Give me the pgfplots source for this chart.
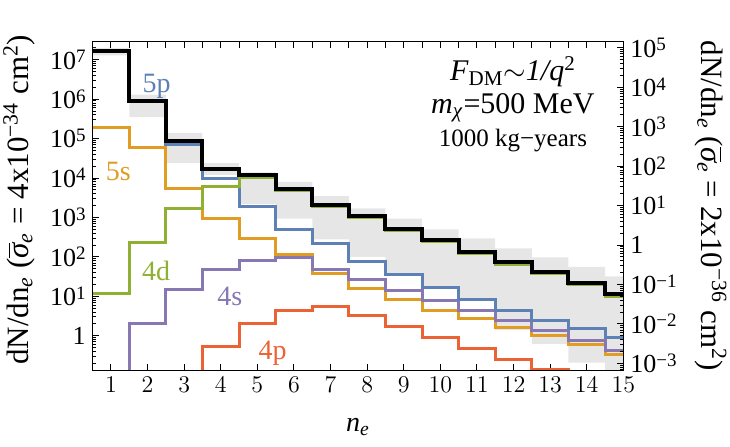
\documentclass[border=0pt]{standalone}
\usepackage{fontspec}
\setmainfont{Liberation Serif}
\usepackage{pgfplots}
\pgfplotsset{compat=1.18}
\definecolor{c5p}{HTML}{5E81B5}
\definecolor{c5s}{HTML}{E19C24}
\definecolor{c4d}{HTML}{8FB032}
\definecolor{c4p}{HTML}{EB6235}
\definecolor{c4s}{HTML}{8778B3}
\definecolor{band}{HTML}{E6E6E6}
\newcommand{\sig}{\(\overline{\hbox{\itshape σ}}\)}
\newcommand{\ex}[1]{\raisebox{3.2pt}{\fontsize{9.5}{10}\selectfont #1}}
\begin{document}
\begin{tikzpicture}
\useasboundingbox (-46.35pt,-38pt) rectangle (318.65pt,185pt);
\pgfplotsset{
  every tick label/.append style={font=\fontsize{13}{15}\selectfont},
  every axis/.append style={line width=0.5pt},
  major tick length=3pt, minor tick length=1.6pt,
  every tick/.style={black, line width=0.5pt},
}
% main axis
\begin{axis}[at={(0,0)}, anchor=south west, scale only axis,
  width=265.3pt, height=164.15pt,
  xmin=0.5, xmax=15, ymode=log, ymin=0.1355, ymax=2.87e7,
  xtick={1,2,...,15}, xtick pos=left,
  ytick pos=left,
  ytick={1,10,100,1000,1e4,1e5,1e6,1e7},
  yticklabels={1,10\ex{1},10\ex{2},10\ex{3},10\ex{4},10\ex{5},10\ex{6},10\ex{7}},
  minor ytick={2e-1,3e-1,4e-1,5e-1,6e-1,7e-1,8e-1,9e-1,2e0,3e0,4e0,5e0,6e0,7e0,8e0,9e0,2e1,3e1,4e1,5e1,6e1,7e1,8e1,9e1,2e2,3e2,4e2,5e2,6e2,7e2,8e2,9e2,2e3,3e3,4e3,5e3,6e3,7e3,8e3,9e3,2e4,3e4,4e4,5e4,6e4,7e4,8e4,9e4,2e5,3e5,4e5,5e5,6e5,7e5,8e5,9e5,2e6,3e6,4e6,5e6,6e6,7e6,8e6,9e6,2e7},
  xlabel={\textit{n}\textsubscript{\textit{e}}},
  xlabel style={font=\fontsize{14}{16}\selectfont, at={(axis description cs:0.5,-0.174)}, anchor=center},
  ylabel={dN/dn\textsubscript{\textit{e}} (\sig\textsubscript{\textit{e}} = 4x10\textsuperscript{−34} cm\textsuperscript{2})},
  ylabel style={font=\fontsize{15.5}{17}\selectfont, at={(axis description cs:-0.1389,0.519)}, anchor=center},
  clip=true,
]
% uncertainty band (upper edge forward, lower edge backward)
\addplot[fill=band, draw=none] coordinates {
(0.5,2.0e7) (1.5,2.0e7) (1.5,1.3e6) (2.5,1.3e6) (2.5,1.4e5) (3.5,1.4e5) (3.5,2.4e4) (4.5,2.4e4) (4.5,1.4e4) (5.5,1.4e4) (5.5,8e3) (6.5,8e3) (6.5,3.5e3) (7.5,3.5e3) (7.5,1.7e3) (8.5,1.7e3) (8.5,940) (9.5,940) (9.5,500) (10.5,500) (10.5,295) (11.5,295) (11.5,165) (12.5,165) (12.5,98) (13.5,98) (13.5,56) (14.5,56) (14.5,32) (15.5,32)
(15.5,0.05) (14.5,0.05) (14.5,0.21) (13.5,0.21) (13.5,0.62) (12.5,0.62) (12.5,1.4) (11.5,1.4) (11.5,9) (10.5,9) (10.5,16) (9.5,16) (9.5,36) (8.5,36) (8.5,100) (7.5,100) (7.5,280) (6.5,280) (6.5,940) (5.5,940) (5.5,2.2e3) (4.5,2.2e3) (4.5,1.2e4) (3.5,1.2e4) (3.5,2.4e4) (2.5,2.4e4) (2.5,3.5e5) (1.5,3.5e5) (1.5,1.3e7) (0.5,1.3e7)} -- cycle;
% 5s
\addplot[const plot, c5s, line width=1.5pt] coordinates {
(0.5,1.9e5) (1.5,6.0e4) (2.5,5.3e3) (3.5,940) (4.5,295) (5.5,112) (6.5,38) (7.5,16) (8.5,8.1) (9.5,4.5) (10.5,2.8) (11.5,1.65) (12.5,1.0) (13.5,0.6) (14.5,0.34) (15.5,0.34)};
% 4s
\addplot[const plot, c4s, line width=1.5pt] coordinates {
(0.5,1e-3) (1.5,2.0) (2.5,14.5) (3.5,47) (4.5,83) (5.5,98) (6.5,47) (7.5,26) (8.5,14) (9.5,7.7) (10.5,4.4) (11.5,2.4) (12.5,1.35) (13.5,0.75) (14.5,0.42) (15.5,0.42)};
% 4p
\addplot[const plot, c4p, line width=1.5pt] coordinates {
(0.5,1e-3) (1.5,1e-3) (2.5,1e-3) (3.5,0.55) (4.5,2.1) (5.5,4.4) (6.5,5.5) (7.5,3.2) (8.5,1.7) (9.5,0.91) (10.5,0.48) (11.5,0.25) (12.5,0.14) (13.5,1e-3) (14.5,1e-3) (15.5,1e-3)};
% 5p
\addplot[const plot, c5p, line width=1.5pt] coordinates {
(0.5,1.68e7) (1.5,8.9e5) (2.5,7.2e4) (3.5,9.5e3) (4.5,1.85e3) (5.5,500) (6.5,220) (7.5,76) (8.5,35) (9.5,16.6) (10.5,8.3) (11.5,4.5) (12.5,2.5) (13.5,1.5) (14.5,0.91) (15.5,0.91)};
% 4d
\addplot[const plot, c4d, line width=1.5pt] coordinates {
(0.5,11.5) (1.5,230) (2.5,1.7e3) (3.5,6.2e3) (4.5,1.02e4) (5.5,4.7e3) (6.5,1.9e3) (7.5,1.0e3) (8.5,475) (9.5,245) (10.5,124) (11.5,66) (12.5,37) (13.5,19.5) (14.5,10.2) (15.5,10.2)};
% total
\addplot[const plot, black, line width=2pt] coordinates {
(0.5,1.7e7) (1.5,9.2e5) (2.5,8.5e4) (3.5,1.7e4) (4.5,1.2e4) (5.5,5.2e3) (6.5,2.1e3) (7.5,1.1e3) (8.5,525) (9.5,270) (10.5,137) (11.5,73) (12.5,41) (13.5,21.5) (14.5,11.3) (15.5,11.3)};
% labels
\node[c5p, font=\fontsize{14}{16}\selectfont] at (axis cs:2.25,2.1e6) {5p};
\node[c5s, font=\fontsize{14}{16}\selectfont] at (axis cs:1.2,1.48e4) {5s};
\node[c4d, font=\fontsize{14}{16}\selectfont] at (axis cs:2.23,45) {4d};
\node[c4s, font=\fontsize{14}{16}\selectfont] at (axis cs:4.25,10) {4s};
\node[c4p, font=\fontsize{14}{16}\selectfont] at (axis cs:5.42,0.36) {4p};
\node[font=\fontsize{15}{17}\selectfont] at (axis description cs:0.792,0.908) {\textit{F}\textsubscript{DM}\(\sim\)\textit{1/q}\textsuperscript{2}};
\node[font=\fontsize{15}{17}\selectfont] at (axis description cs:0.792,0.798) {\textit{m}\textsubscript{\textit{χ}}=500 MeV};
\node[font=\fontsize{12.5}{15}\selectfont] at (axis description cs:0.792,0.700) {1000 kg−years};
\end{axis}
% right axis & top ticks
\begin{axis}[at={(0,0)}, anchor=south west, scale only axis,
  width=265.3pt, height=164.15pt,
  xmin=0.5, xmax=15, ymode=log, ymin=6.775e-4, ymax=1.435e5,
  xtick={1,1.5,2,2.5,3,3.5,4,4.5,5,5.5,6,6.5,7,7.5,8,8.5,9,9.5,10,10.5,11,11.5,12,12.5,13,13.5,14,14.5},
  xticklabels={}, xtick pos=right,
  ytick pos=right, yticklabel pos=right,
  ytick={1e-3,1e-2,1e-1,1,10,100,1000,1e4,1e5},
  yticklabels={10\ex{−3},10\ex{−2},10\ex{−1},1,10\ex{1},10\ex{2},10\ex{3},10\ex{4},10\ex{5}},
  minor ytick={7e-4,8e-4,9e-4,2e-3,3e-3,4e-3,5e-3,6e-3,7e-3,8e-3,9e-3,2e-2,3e-2,4e-2,5e-2,6e-2,7e-2,8e-2,9e-2,2e-1,3e-1,4e-1,5e-1,6e-1,7e-1,8e-1,9e-1,2e0,3e0,4e0,5e0,6e0,7e0,8e0,9e0,2e1,3e1,4e1,5e1,6e1,7e1,8e1,9e1,2e2,3e2,4e2,5e2,6e2,7e2,8e2,9e2,2e3,3e3,4e3,5e3,6e3,7e3,8e3,9e3,2e4,3e4,4e4,5e4,6e4,7e4,8e4,9e4},
  yticklabel style={anchor=west},
  ylabel={dN/dn\textsubscript{\textit{e}} (\sig\textsubscript{\textit{e}} = 2x10\textsuperscript{−36} cm\textsuperscript{2})},
  ylabel style={font=\fontsize{15.5}{17}\selectfont, at={(axis description cs:1.165,0.5)}, rotate=180, anchor=center},
]
\addplot[draw=none, forget plot] coordinates {(1,1) (2,2)};
\end{axis}
\end{tikzpicture}
\end{document}
